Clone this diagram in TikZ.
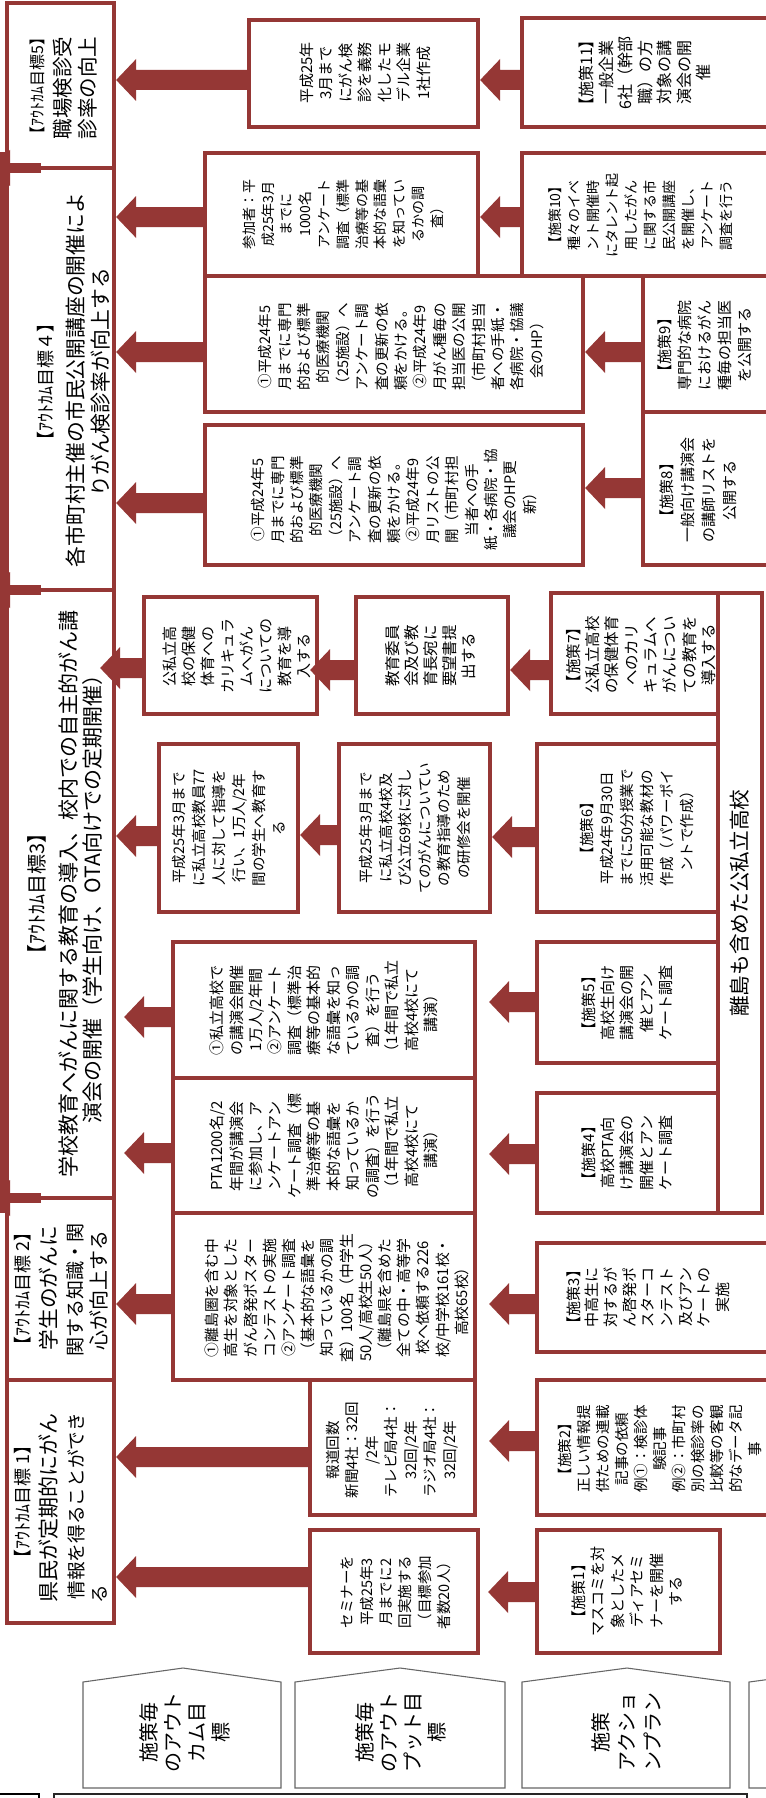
\documentclass[tikz,border=0pt]{standalone}
\usepackage{fontspec}
\setmainfont{Noto Sans CJK JP}
\usetikzlibrary{fit,calc}
\definecolor{dred}{RGB}{149,55,53}
\newcommand\myfz[2]{\fontsize{#1pt}{#2pt}\selectfont}
\newcommand\fatarr[4]{%
  \coordinate (fa) at (#1.west |- 0,#3);
  \coordinate (fb) at ($(#2.east |- 0,#3)+(#4,0)$);
  \fill[dred] ($(fa)+(0,-10)$) -- ($(fb)+(20,-10)$) -- ($(fb)+(20,-21)$) -- (fb) -- ($(fb)+(20,21)$) -- ($(fb)+(20,10)$) -- ($(fa)+(0,10)$) -- cycle;}
\begin{document}
\begin{tikzpicture}[x=0.75pt,y=-0.75pt,
  box/.style={draw=dred,line width=3.2pt,fill=white,inner sep=0pt},
  txt/.style={rotate=90,align=center,inner sep=0pt},
  leg/.style={draw=black!60,line width=0.8pt,fill=white}]
\useasboundingbox (0,0) rectangle (765,1798);
\fill[white] (0,0) rectangle (765,1798);

% ---------- outcome boxes
\node[box,fit={(7,3) (114,168)}] (o5) {};
\node[box,fit={(7,168) (114,590)}] (o4) {};
\node[box,fit={(7,590) (114,1198)}] (o3) {};
\node[box,fit={(7,1198) (114,1380)}] (o2) {};
\node[box,fit={(7,1380) (114,1623)}] (o1) {};

% ---------- output boxes
\node[box,fit={(249,20) (478,127)}] (p11) {};
\node[box,fit={(205,153) (478,276)}] (p10) {};
\node[box,fit={(205,276) (583,412)}] (p9) {};
\node[box,fit={(205,425) (583,565)}] (p8) {};
\node[box,fit={(144,597) (317,714)}] (p7b) {};
\node[box,fit={(356,597) (508,714)}] (p7a) {};
\node[box,fit={(159,744) (298,912)}] (p6b) {};
\node[box,fit={(339,744) (490,912)}] (p6a) {};
\node[box,fit={(173,942) (475,1078)}] (p5) {};
\node[box,fit={(173,1078) (475,1213)}] (p4) {};
\node[box,fit={(173,1213) (475,1380)}] (p3) {};
\node[box,fit={(310,1380) (475,1515)}] (p2) {};
\node[box,fit={(310,1530) (478,1653)}] (p1) {};

% ---------- action boxes
\node[box,fit={(522,18) (772,127)}] (a11) {};
\node[box,fit={(522,153) (772,276)}] (a10) {};
\node[box,fit={(643,276) (772,412)}] (a9) {};
\node[box,fit={(643,412) (772,565)}] (a8) {};
\node[box,fit={(551,593) (718,714)}] (a7) {};
\node[box,fit={(537,744) (718,912)}] (a6) {};
\node[box,fit={(537,942) (718,1063)}] (a5) {};
\node[box,fit={(537,1093) (718,1213)}] (a4) {};
\node[box,fit={(537,1243) (772,1352)}] (a3) {};
\node[box,fit={(537,1380) (772,1515)}] (a2) {};
\node[box,fit={(537,1530) (720,1653)}] (a1) {};
\node[box,fit={(718,593) (762,1213)}] (band) {};

% ---------- outcome texts
\node[txt,font=\myfz{12}{12}] (o5t) at (37,86) {【ｱｳﾄｶﾑ目標5】};
\node[txt,font=\myfz{15.4}{15.4}] (o5u) at (63,88) {職場検診受};
\node[txt,font=\myfz{15.4}{15.4}] (o5v) at (88,88) {診率の向上};
\node[txt,font=\myfz{13.5}{13.5}] (o4t) at (46,382) {【ｱｳﾄｶﾑ目標４】};
\node[txt,font=\myfz{15.6}{15.6}] (o4u) at (76,380) {各市町村主催の市民公開講座の開催によ};
\node[txt,font=\myfz{15.6}{15.6}] (o4v) at (101,382) {りがん検診率が向上する};
\node[txt,font=\myfz{15}{15}] (o3t) at (37,894) {【ｱｳﾄｶﾑ目標3】};
\node[txt,font=\myfz{15.75}{15.75}] (o3u) at (68,894) {学校教育へがんに関する教育の導入、校内での自主的がん講};
\node[txt,font=\myfz{15.75}{15.75}] (o3v) at (93,894) {演会の開催（学生向け、OTA向けでの定期開催）};
\node[txt,font=\myfz{13.5}{13.5}] (o2t) at (23,1289) {【ｱｳﾄｶﾑ目標 2】};
\node[txt,font=\myfz{15.5}{15.5}] (o2u) at (49,1288) {学生のがんに};
\node[txt,font=\myfz{14.3}{14.3}] (o2v) at (75,1290) {関する知識・関};
\node[txt,font=\myfz{15}{15}] (o2w) at (99,1290) {心が向上する};
\node[txt,font=\myfz{13.5}{13.5}] (o1t) at (23,1502) {【ｱｳﾄｶﾑ目標 1】};
\node[txt,font=\myfz{15.75}{15.75}] (o1u) at (49,1508) {県民が定期的にがん};
\node[txt,font=\myfz{14}{14}] (o1v) at (76,1506) {情報を得ることができ};
\node[txt,font=\myfz{14}{14}] (o1w) at (100,1594) {る};

% ---------- output / action texts
\node[txt,font=\myfz{11.25}{14.6}] (p11x) at (365,73) {平成25年\\3月まで\\にがん検\\診を義務\\化したモ\\デル企業\\1社作成};
\node[txt,font=\myfz{12}{14.6}] (a11x) at (645,73) {【施策11】\\一般企業\\6社（幹部\\職）の方\\対象の講\\演会の開\\催};
\node[txt,font=\myfz{10.5}{14.1}] (p10x) at (343,214) {参加者：平\\成25年3月\\までに\\1000名\\アンケート\\調査（標準\\治療等の基\\本的な語彙\\を知ってい\\るかの調\\査）};
\node[txt,font=\myfz{10.5}{14.25}] (a10x) at (641,215) {【施策10】\\種々のイベ\\ント開催時\\にタレント起\\用したがん\\に関する市\\民公開講座\\を開催し、\\アンケート\\調査を行う};
\node[txt,font=\myfz{10.9}{14.55}] (p9x) at (401,347) {①平成24年5\\月までに専門\\的および標準\\的医療機関\\（25施設）へ\\アンケート調\\査の更新の依\\頼をかける。\\②平成24年9\\月がん種毎の\\担当医の公開\\（市町村担当\\者への手紙・\\各病院・協議\\会のHP）};
\node[txt,font=\myfz{11.25}{15}] (a9x) at (705,345) {【施策9】\\専門的な病院\\におけるがん\\種毎の担当医\\を公開する};
\node[txt,font=\myfz{10.9}{14.55}] (p8x) at (394,500) {①平成24年5\\月までに専門\\的および標準\\的医療機関\\（25施設）へ\\アンケート調\\査の更新の依\\頼をかける。\\②平成24年9\\月リストの公\\開（市町村担\\当者への手\\紙・各病院・協\\議会のHP更\\新）};
\node[txt,font=\myfz{11.25}{15.75}] (a8x) at (698,490) {【施策8】\\一般向け講演会\\の講師リストを\\公開する};
\node[txt,font=\myfz{11.25}{14.4}] (p7bx) at (237,656) {公私立高\\校の保健\\体育への\\カリキュラ\\ムへがん\\についての\\教育を導\\入する};
\node[txt,font=\myfz{11.6}{14.25}] (p7ax) at (431,656) {教育委員\\会及び教\\育長宛に\\要望書提\\出する};
\node[txt,font=\myfz{11.6}{14.5}] (a7x) at (641,655) {【施策7】\\公私立高校\\の保健体育\\へのカリ\\キュラムへ\\がんについ\\ての教育を\\導入する};
\node[txt,font=\myfz{10.9}{15}] (p6bx) at (229,828) {平成25年3月まで\\に私立高校教員77\\人に対して指導を\\行い、1万人/2年\\間の学生へ教育す\\る};
\node[txt,font=\myfz{10.9}{14.7}] (p6ax) at (415,828) {平成25年3月まで\\に私立高校4校及\\び公立69校に対し\\てのがんについてい\\の教育指導のため\\の研修会を開催};
\node[txt,font=\myfz{10.9}{15}] (a6x) at (637,828) {【施策6】\\平成24年9月30日\\までに50分授業で\\活用可能な教材の\\作成（パワーポイ\\ントで作成）};
\node[txt,font=\myfz{11.25}{14.6}] (p5x) at (324,1010) {①私立高校で\\の講演会開催\\1万人/2年間\\②アンケート\\調査（標準治\\療等の基本的\\な語彙を知っ\\ているかの調\\査）を行う\\（1年間で私立\\高校4校にて\\講演）};
\node[txt,font=\myfz{11.25}{14.6}] (p4x) at (324,1146) {PTA1200名/2\\年間が講演会\\に参加し、ア\\ンケートアン\\ケート調査（標\\準治療等の基\\本的な語彙を\\知っているか\\の調査）を行う\\（1年間で私立\\高校4校にて\\講演）};
\node[txt,font=\myfz{11.25}{14.5}] (a5x) at (627,1003) {【施策5】\\高校生向け\\講演会の開\\催とアン\\ケート調査};
\node[txt,font=\myfz{11.25}{14.5}] (a4x) at (627,1153) {【施策4】\\高校PTA向\\け講演会の\\開催とアン\\ケート調査};
\node[txt,font=\myfz{15.5}{15.5}] (bandx) at (740,903) {離島も含めた公私立高校};
\node[txt,font=\myfz{11.1}{14.4}] (p3x) at (337,1298) {①離島圏を含む中\\高生を対象とした\\がん啓発ポスター\\コンテストの実施\\②アンケート調査\\（基本的な語彙を\\知っているかの調\\査）100名（中学生\\50人/高校生50人）\\（離島県を含めた\\全ての中・高等学\\校へ依頼する226\\校/中学校161校・\\高校65校）};
\node[txt,font=\myfz{11.25}{14}] (a3x) at (648,1297) {【施策3】\\中高生に\\対するが\\ん啓発ポ\\スターコ\\ンテスト\\及びアン\\ケートの\\実施};
\node[txt,font=\myfz{10.9}{14.6}] (p2x) at (392,1450) {報道回数\\新聞4社：32回\\/2年\\テレビ局4社：\\32回/2年\\ラジオ局4社：\\32回/2年};
\node[txt,font=\myfz{10.9}{14.25}] (a2x) at (660,1449) {【施策2】\\正しい情報提\\供ための連載\\記事の依頼\\例①：検診体\\験記事\\例②：市町村\\別の検診率の\\比較等の客観\\的なデータ記\\事};
\node[txt,font=\myfz{10.9}{14.5}] (p1x) at (396,1592) {セミナーを\\平成25年3\\月までに2\\回実施する\\（目標参加\\者数20人）};
\node[txt,font=\myfz{11.25}{14.6}] (a1x) at (627,1591) {【施策1】\\マスコミを対\\象としたメ\\ディアセミ\\ナーを開催\\する};

% ---------- fat arrows
\fatarr{a11}{p11}{80}{0}
\fatarr{p11}{o5}{80}{0}
\fatarr{a10}{p10}{217}{0}
\fatarr{p10}{o4}{217}{0}
\fatarr{a9}{p9}{352}{0}
\fatarr{p9}{o4}{352}{0}
\fatarr{a8}{p8}{488}{0}
\fatarr{p8}{o4}{503}{0}
\fatarr{a7}{p7a}{670}{0}
\fatarr{p7a}{p7b}{670}{-9}
\fatarr{p7b}{o3}{668}{-16}
\fatarr{a6}{p6a}{837}{0}
\fatarr{p6a}{p6b}{835}{0}
\fatarr{p6b}{o3}{836}{0}
\fatarr{a5}{p5}{1002}{12}
\fatarr{a4}{p4}{1154}{12}
\fatarr{p5}{o3}{1017}{8}
\fatarr{p4}{o3}{1153}{8}
\fatarr{a3}{p3}{1304}{12}
\fatarr{p3}{o2}{1304}{0}
\fatarr{a2}{p2}{1441}{12}
\fatarr{p2}{o1}{1457}{0}
\fatarr{a1}{p1}{1592}{8}
\fatarr{p1}{o1}{1577}{0}

% ---------- cut-off arrows at the left edge
\fill[dred] (0,152) rectangle (5,1213);
\foreach \yy in {168,590,1198}{
  \fill[dred] (0,\yy-5) rectangle (41,\yy+5);
  \fill[dred] (10,\yy-18) -- (10,\yy+18) -- (-14,\yy) -- cycle;
}

% ---------- legend
\draw[leg] (83,1682) -- (183,1668) -- (281,1682) -- (281,1788) -- (83,1788) -- cycle;
\draw[leg] (295,1682) -- (400,1668) -- (505,1682) -- (505,1788) -- (295,1788) -- cycle;
\draw[leg] (522,1682) -- (627,1668) -- (730,1682) -- (730,1788) -- (522,1788) -- cycle;
\draw[leg] (749,1682) -- (854,1668) -- (958,1682) -- (958,1788) -- (749,1788) -- cycle;
\node[txt,font=\myfz{15}{18}] (l1) at (185,1732) {施策毎\\のアウト\\カム目\\標};
\node[txt,font=\myfz{15}{18}] (l2) at (401,1732) {施策毎\\のアウト\\プット目\\標};
\node[txt,font=\myfz{15}{19.5}] (l3) at (626,1732) {施策\\アクショ\\ンプラン};

% ---------- bottom strip
\draw[black,line width=1.1pt] (-5,1794) rectangle (39,1810);
\draw[black!85,line width=1.6pt] (54,1794) rectangle (747,1810);
\end{tikzpicture}
\end{document}
